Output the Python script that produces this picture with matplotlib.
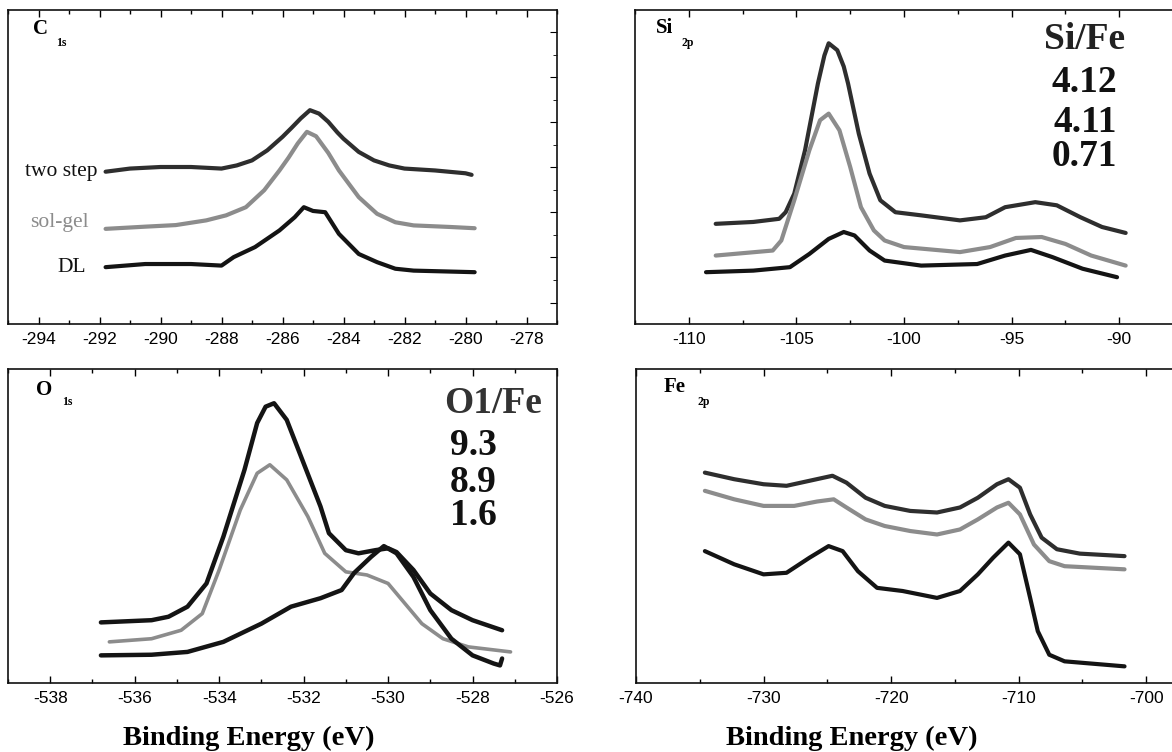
import matplotlib
matplotlib.use("Agg")
import matplotlib.pyplot as plt
from matplotlib.ticker import MultipleLocator, FixedLocator

# ---------------- data ----------------
# C 1s
c1s_two_step_x = [-291.8, -291.0, -290.0, -289.0, -288.0, -287.5, -287.0, -286.5, -286.0, -285.7,
                  -285.4, -285.1, -284.8, -284.5, -284.2, -284.0, -283.5, -283.0, -282.5, -282.0,
                  -281.0, -280.0, -279.8]
c1s_two_step_y = [48.5, 49.5, 50.0, 50.0, 49.5, 50.5, 52.1, 55.3, 59.6, 62.5,
                  65.5, 68.1, 67.0, 64.4, 61.0, 59.0, 54.8, 52.1, 50.5, 49.5,
                  48.9, 48.0, 47.5]
c1s_solgel_x = [-291.8, -290.5, -289.5, -288.5, -287.85, -287.2, -286.6, -286.1, -285.8, -285.5,
                -285.2, -284.9, -284.5, -284.15, -283.5, -282.9, -282.3, -281.7, -280.5, -279.7]
c1s_solgel_y = [30.3, 31.0, 31.5, 33.0, 34.6, 37.2, 42.6, 48.9, 53.0, 57.5,
                61.2, 59.8, 54.5, 48.9, 40.4, 35.1, 32.4, 31.4, 30.9, 30.5]
c1s_dl_x = [-291.8, -290.5, -289.0, -288.0, -287.6, -286.9, -286.1, -285.6, -285.3, -285.0,
            -284.6, -284.15, -283.5, -282.9, -282.3, -281.7, -279.7]
c1s_dl_y = [18.1, 19.1, 19.1, 18.6, 21.3, 24.5, 29.8, 34.0, 37.2, 36.0,
            35.6, 28.7, 22.3, 19.7, 17.6, 17.0, 16.5]

# Si 2p
si_two_step_x = [-108.75, -107.0, -105.8, -105.5, -105.1, -104.6, -104.0, -103.7, -103.5, -103.1,
                 -102.8, -102.6, -102.1, -101.6, -101.1, -100.4, -99.2, -97.4, -96.2, -95.3,
                 -93.9, -92.9, -91.8, -90.8, -89.7]
si_two_step_y = [31.9, 32.5, 33.5, 35.6, 41.5, 55.3, 76.6, 85.5, 89.4, 87.2,
                 82.0, 76.6, 60.6, 47.9, 39.4, 35.6, 34.6, 33.0, 34.0, 37.2,
                 38.8, 37.8, 34.0, 30.9, 29.0]
si_solgel_x = [-108.75, -106.1, -105.7, -105.1, -104.4, -103.9, -103.5, -103.0, -102.5, -102.0,
               -101.4, -100.9, -100.0, -97.4, -96.0, -94.8, -93.6, -92.5, -91.3, -89.7]
si_solgel_y = [21.8, 23.4, 26.6, 39.4, 55.3, 64.9, 67.0, 61.7, 50.0, 37.2,
               29.8, 26.6, 24.5, 22.9, 24.5, 27.4, 27.7, 25.5, 21.8, 18.6]
si_dl_x = [-109.2, -107.0, -105.3, -104.4, -103.5, -102.8, -102.3, -101.6, -100.9, -99.2,
           -96.6, -95.3, -94.1, -93.1, -91.7, -90.1]
si_dl_y = [16.5, 17.0, 18.1, 22.3, 27.1, 29.3, 28.2, 23.4, 20.2, 18.6,
           19.1, 21.8, 23.6, 21.3, 17.6, 14.9]

# O 1s
o1s_two_step_x = [-536.8, -535.6, -535.2, -534.75, -534.3, -533.9, -533.4, -533.1, -532.9, -532.7,
                  -532.4, -532.0, -531.6, -531.4, -531.0, -530.7, -530.3, -530.0, -529.8, -529.4,
                  -529.0, -528.5, -528.0, -527.3]
o1s_two_step_y = [19.3, 20.0, 21.1, 24.3, 31.7, 46.6, 67.9, 82.8, 88.0, 89.1,
                  83.8, 70.0, 56.2, 47.7, 42.3, 41.3, 42.3, 42.9, 41.7, 36.0,
                  28.5, 23.2, 20.0, 16.8]
o1s_solgel_x = [-536.6, -535.6, -534.9, -534.4, -534.0, -533.5, -533.1, -532.8, -532.4, -531.9,
                -531.5, -531.0, -530.5, -530.0, -529.6, -529.2, -528.7, -528.1, -527.1]
o1s_solgel_y = [13.1, 14.1, 16.8, 22.1, 36.0, 55.1, 66.8, 69.5, 64.7, 53.0,
                41.3, 35.4, 34.4, 31.7, 25.3, 18.9, 14.1, 11.5, 9.9]
o1s_dl_x = [-536.8, -535.6, -534.75, -533.9, -533.0, -532.3, -531.6, -531.1, -530.8, -530.4,
            -530.1, -529.8, -529.4, -529.0, -528.5, -528.0, -527.5, -527.35, -527.3]
o1s_dl_y = [8.8, 9.0, 9.9, 13.1, 18.9, 24.3, 27.0, 29.6, 35.1, 40.2,
            43.6, 41.3, 33.8, 23.2, 14.1, 8.8, 6.2, 5.6, 7.8]

# Fe 2p
fe_two_step_x = [-734.6, -732.3, -730.0, -728.2, -726.4, -724.6, -723.5, -722.0, -720.5, -718.5,
                 -716.4, -714.6, -713.2, -711.7, -710.8, -709.9, -709.1, -708.2, -707.0, -705.2, -701.7]
fe_two_step_y = [67.0, 64.9, 63.3, 62.8, 64.4, 66.0, 63.8, 59.0, 56.4, 54.8,
                 54.3, 55.9, 59.0, 63.3, 64.9, 62.2, 53.7, 46.3, 42.6, 41.2, 40.4]
fe_solgel_x = [-734.6, -732.3, -730.0, -727.6, -725.8, -724.5, -723.5, -722.0, -720.5, -718.5,
               -716.4, -714.6, -713.2, -711.7, -710.8, -709.9, -708.8, -707.6, -706.4, -701.7]
fe_solgel_y = [61.2, 58.5, 56.4, 56.4, 57.8, 58.5, 55.9, 52.1, 50.0, 48.4,
               47.3, 48.9, 52.1, 55.9, 57.4, 53.7, 44.1, 38.8, 37.2, 36.2]
fe_dl_x = [-734.6, -732.3, -730.0, -728.2, -726.4, -724.9, -723.8, -722.6, -721.1, -719.1,
           -716.4, -714.6, -713.2, -712.0, -710.8, -709.9, -709.1, -708.5, -707.6, -706.4, -701.7]
fe_dl_y = [42.0, 37.8, 34.6, 35.1, 39.9, 43.6, 42.0, 35.6, 30.3, 29.3,
           27.1, 29.3, 34.6, 39.9, 44.7, 41.0, 27.1, 16.5, 9.0, 6.9, 5.3]

sample_names = ["two step", "sol-gel", "DL"]
si_fe_ratios = ["4.12", "4.11", "0.71"]
o_fe_ratios = ["9.3", "8.9", "1.6"]

c1s_ticks = [-294, -292, -290, -288, -286, -284, -282, -280, -278]
si_ticks = [-110, -105, -100, -95, -90]
o1s_ticks = [-538, -536, -534, -532, -530, -528, -526]
fe_ticks = [-740, -730, -720, -710, -700]

# ---------------- style ----------------
SERIF = ["Liberation Serif", "DejaVu Serif"]
SANS = ["Liberation Sans", "DejaVu Sans"]
plt.rcParams["font.family"] = SANS
plt.rcParams["axes.unicode_minus"] = False

col_two = "#2e2e2e"
col_sol = "#8c8c8c"
col_dl = "#141414"

W, H = 1172, 752
fig = plt.figure(figsize=(W / 100, H / 100), dpi=100)


def make_ax(l, t, r, b):
    return fig.add_axes([l / W, (H - b) / H, (r - l) / W, (b - t) / H])


ax_c = make_ax(8, 10, 557, 324)
ax_si = make_ax(635, 10, 1173, 324)
ax_o = make_ax(8, 369, 557, 683)
ax_fe = make_ax(636, 369, 1173, 683)


def style(ax, xlim, ticks, minor):
    ax.set_xlim(*xlim)
    ax.set_ylim(0, 100)
    ax.xaxis.set_major_locator(FixedLocator(ticks))
    ax.xaxis.set_minor_locator(MultipleLocator(minor))
    ax.set_yticks([])
    ax.tick_params(axis="x", which="both", direction="in", top=True, bottom=True,
                   labelsize=12.5, pad=6, width=1.0)
    ax.tick_params(axis="x", which="major", length=5)
    ax.tick_params(axis="x", which="minor", length=3)
    for s in ax.spines.values():
        s.set_linewidth(1.2)
        s.set_color("#111111")
    for lab in ax.get_xticklabels():
        lab.set_family(SANS)


style(ax_c, (-295, -277), c1s_ticks, 1)
style(ax_si, (-112.5, -87.5), si_ticks, 2.5)
style(ax_o, (-539, -526), o1s_ticks, 1)
style(ax_fe, (-740, -697.9), fe_ticks, 5)

# right-side y ticks on C 1s panel
c_major = [6.84 + 14.36 * k for k in range(7)]
c_minor = [14.02 + 14.36 * k for k in range(6)]
ax_c.yaxis.set_major_locator(FixedLocator(c_major))
ax_c.yaxis.set_minor_locator(FixedLocator(c_minor))
ax_c.tick_params(axis="y", which="both", direction="in", left=False, right=True,
                 labelleft=False, labelright=False)
ax_c.tick_params(axis="y", which="major", length=5)
ax_c.tick_params(axis="y", which="minor", length=3)

LW = dict(solid_joinstyle="round", solid_capstyle="round")

# curves
ax_c.plot(c1s_two_step_x, c1s_two_step_y, color=col_two, lw=3.0, **LW)
ax_c.plot(c1s_solgel_x, c1s_solgel_y, color=col_sol, lw=3.0, **LW)
ax_c.plot(c1s_dl_x, c1s_dl_y, color=col_dl, lw=3.0, **LW)

ax_si.plot(si_two_step_x, si_two_step_y, color=col_two, lw=3.0, **LW)
ax_si.plot(si_solgel_x, si_solgel_y, color=col_sol, lw=3.0, **LW)
ax_si.plot(si_dl_x, si_dl_y, color=col_dl, lw=3.0, **LW)

ax_o.plot(o1s_two_step_x, o1s_two_step_y, color=col_dl, lw=3.2, **LW)
ax_o.plot(o1s_solgel_x, o1s_solgel_y, color=col_sol, lw=2.6, **LW)
ax_o.plot(o1s_dl_x, o1s_dl_y, color=col_dl, lw=3.2, **LW)

ax_fe.plot(fe_two_step_x, fe_two_step_y, color=col_two, lw=3.0, **LW)
ax_fe.plot(fe_solgel_x, fe_solgel_y, color=col_sol, lw=3.0, **LW)
ax_fe.plot(fe_dl_x, fe_dl_y, color=col_dl, lw=3.0, **LW)

# sample labels in C 1s panel
name_cols = ["#111111", "#8c8c8c", "#111111"]
name_y = [48.7, 32.4, 18.1]
name_x = [-293.25, -293.3, -292.9]
for n, c, xx, yy in zip(sample_names, name_cols, name_x, name_y):
    ax_c.text(xx, yy, n, color=c, ha="center", va="center", fontsize=15.5, family=SERIF)


# panel labels
def panel_label(ax, main, sub, xm, ym, xs, ys):
    ax.text(xm, ym, main, transform=ax.transAxes, ha="left", va="center",
            fontsize=15, fontweight="bold", family=SERIF)
    ax.text(xs, ys, sub, transform=ax.transAxes, ha="left", va="center",
            fontsize=8.5, fontweight="bold", family=SERIF)


panel_label(ax_c, "C", "1s", 0.046, 0.938, 0.087, 0.895)
panel_label(ax_si, "Si", "2p", 0.038, 0.944, 0.086, 0.895)
panel_label(ax_o, "O", "1s", 0.051, 0.933, 0.098, 0.895)
panel_label(ax_fe, "Fe", "2p", 0.051, 0.943, 0.115, 0.895)

# ratio annotations
ax_si.text(0.836, 0.905, "Si/Fe", transform=ax_si.transAxes, ha="center", va="center",
           fontsize=27, fontweight="bold", family=SERIF, color="#222222")
for r, yy in zip(si_fe_ratios, [0.768, 0.643, 0.532]):
    ax_si.text(0.836, yy, r, transform=ax_si.transAxes, ha="center", va="center",
               fontsize=27, fontweight="bold", family=SERIF, color="#111111")

ax_o.text(0.883, 0.889, "O1/Fe", transform=ax_o.transAxes, ha="center", va="center",
          fontsize=27, fontweight="bold", family=SERIF, color="#333333")
for r, yy in zip(o_fe_ratios, [0.755, 0.640, 0.532]):
    ax_o.text(0.847, yy, r, transform=ax_o.transAxes, ha="center", va="center",
              fontsize=27, fontweight="bold", family=SERIF, color="#111111")

# x-axis titles (baseline placed so descenders stay inside the image)
ax_o.text(0.439, -0.198, "Binding Energy (eV)", transform=ax_o.transAxes, ha="center",
          va="baseline", fontsize=20.5, fontweight="bold", family=SERIF)
ax_fe.text(0.402, -0.198, "Binding Energy (eV)", transform=ax_fe.transAxes, ha="center",
           va="baseline", fontsize=20.5, fontweight="bold", family=SERIF)

fig.savefig("out.png", dpi=100)
